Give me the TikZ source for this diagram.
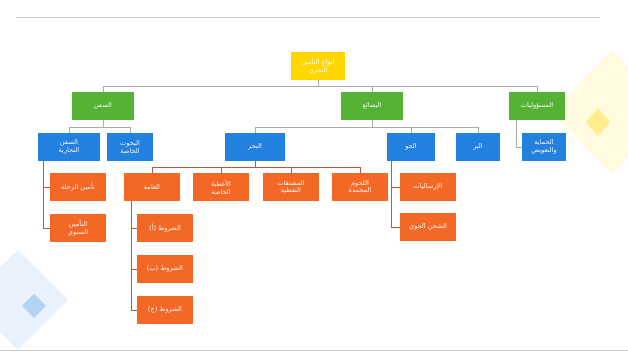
\documentclass[tikz,border=0pt]{standalone}
\usepackage{fontspec}
\newfontfamily\arabicfont[Script=Arabic]{DejaVu Sans}
\TeXXeTstate=1
\usetikzlibrary{calc}

\newcommand{\ar}[1]{{\arabicfont\beginR #1\endR}}

\begin{document}
\begin{tikzpicture}[x=0.04cm,y=-0.04cm,
  box/.style={draw=none,text=white,align=center,minimum height=1.1cm,
    inner sep=1pt,font=\fontsize{7.5}{9}\selectfont},
  yellowbox/.style={box,fill=ins_yellow,minimum width=2.15cm},
  greenbox/.style={box,fill=ins_green,minimum width=2.5cm},
  bluebox/.style={box,fill=ins_blue},
  orangebox/.style={box,fill=ins_orange,minimum width=2.25cm},
  link/.style={draw=ins_gray,line width=0.5pt},
  sublink/.style={draw=ins_red,line width=0.5pt}]

% ------------------------------------------------ colors
\definecolor{ins_yellow}{RGB}{255,214,0}   %#FFD600
\definecolor{ins_green}{RGB}{84,178,52}    %#54B234
\definecolor{ins_blue}{RGB}{34,128,222}    %#2280DE
\definecolor{ins_orange}{RGB}{244,104,38}  %#F46826
\definecolor{ins_gray}{RGB}{170,170,170}   %#AAAAAA
\definecolor{ins_red}{RGB}{196,84,60}      %#C4543C

\useasboundingbox (0,0) rectangle (628,354);
\fill[white] (0,0) rectangle (628,354);

% ------------------------------------------------ slide decoration
\fill[ins_yellow!12] (612,50) -- (672,112) -- (612,174) -- (552,112) -- cycle;
\fill[ins_yellow!45] (598,108) -- (610,122) -- (598,136) -- (586,122) -- cycle;
\fill[ins_blue!10] (18,250) -- (68,300) -- (18,350) -- (-32,300) -- cycle;
\fill[ins_blue!35] (34,294) -- (46,306) -- (34,318) -- (22,306) -- cycle;
\draw[ins_gray!60] (16,17) -- (600,17);
\draw[ins_gray!60] (0,350) -- (628,350);

% ------------------------------------------------ top
\node[yellowbox] (top) at (318,66) {\ar{أنواع التأمين}\\\ar{البحري}};

% ------------------------------------------------ green level
\node[greenbox] (ships) at (103,106) {\ar{السفن}};
\node[greenbox] (goods) at (372,106) {\ar{البضائع}};
\node[greenbox,minimum width=2.2cm] (liab) at (537,106) {\ar{المسؤوليات}};

% ------------------------------------------------ blue level
\node[bluebox,minimum width=2.5cm] (comm) at (69,147) {\ar{السفن}\\\ar{التجارية}};
\node[bluebox,minimum width=1.8cm] (yacht) at (130,147) {\ar{اليخوت}\\\ar{الخاصة}};
\node[bluebox,minimum width=2.4cm] (sea) at (255,147) {\ar{البحر}};
\node[bluebox,minimum width=1.9cm] (air) at (411,147) {\ar{الجو}};
\node[bluebox,minimum width=1.75cm] (land) at (478,147) {\ar{البر}};
\node[bluebox,minimum width=1.75cm] (pandi) at (544,147) {\ar{الحماية}\\\ar{والتعويض}};

% ------------------------------------------------ orange level
\node[orangebox] (general) at (152,187) {\ar{العامة}};
\node[orangebox] (cover) at (221,187) {\ar{الأغطية}\\\ar{الخاصة}};
\node[orangebox] (oil) at (291,187) {\ar{المشتقات}\\\ar{النفطية}};
\node[orangebox] (meat) at (360,187) {\ar{اللحوم}\\\ar{المجمدة}};

\node[orangebox] (voyage) at (78,187) {\ar{تأمين الرحلة}};
\node[orangebox] (annual) at (78,228) {\ar{التأمين}\\\ar{السنوي}};

\node[orangebox] (consign) at (428,187) {\ar{الإرساليات}};
\node[orangebox] (freight) at (428,227) {\ar{الشحن الجوي}};

\node[orangebox] (clA) at (165,228) {\ar{الشروط (أ)}};
\node[orangebox] (clB) at (165,269) {\ar{الشروط (ب)}};
\node[orangebox] (clC) at (165,310) {\ar{الشروط (ج)}};

% ------------------------------------------------ connectors
\draw[link] (top.south) -- ++(0,6) -| (ships.north);
\draw[link] (top.south) -- ++(0,6) -| (goods.north);
\draw[link] (top.south) -- ++(0,6) -| (liab.north);

\draw[link] (ships.south) -- ++(0,7) -| (comm.north);
\draw[link] (ships.south) -- ++(0,7) -| (yacht.north);
\draw[link] (goods.south) -- ++(0,7) -| (sea.north);
\draw[link] (goods.south) -- ++(0,7) -| (air.north);
\draw[link] (goods.south) -- ++(0,7) -| (land.north);
\draw[link] ($(liab.south west)+(7,0)$) |- (pandi.west);

\draw[sublink] (sea.south) -- ++(0,6) -| (general.north);
\draw[sublink] (sea.south) -- ++(0,6) -| (cover.north);
\draw[sublink] (sea.south) -- ++(0,6) -| (oil.north);
\draw[sublink] (sea.south) -- ++(0,6) -| (meat.north);

\draw[sublink] ($(comm.south west)+(6,0)$) |- (voyage.west);
\draw[sublink] ($(comm.south west)+(6,0)$) |- (annual.west);
\draw[sublink] ($(air.south west)+(4,0)$) |- (consign.west);
\draw[sublink] ($(air.south west)+(4,0)$) |- (freight.west);
\draw[sublink] ($(general.south west)+(8,0)$) |- (clA.west);
\draw[sublink] ($(general.south west)+(8,0)$) |- (clB.west);
\draw[sublink] ($(general.south west)+(8,0)$) |- (clC.west);

\end{tikzpicture}
\end{document}
